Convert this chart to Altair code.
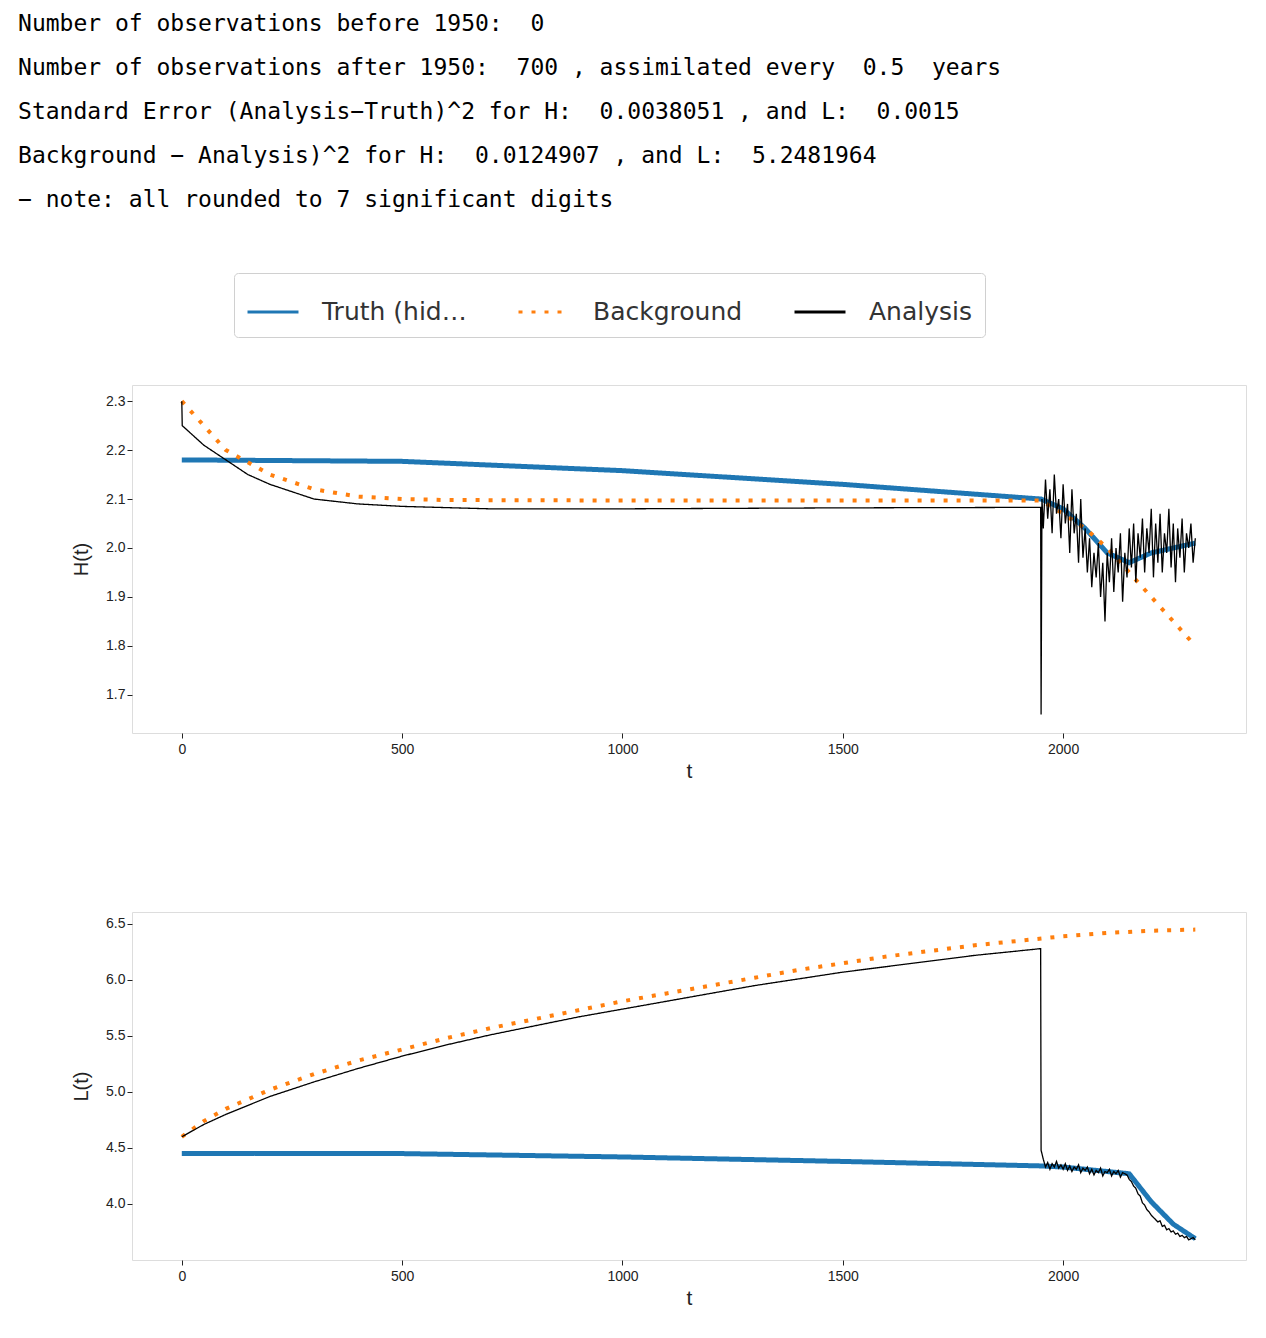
import altair as alt
import pandas as pd

NB = "\u00a0"

# header lines
header = [
    "Number of observations before 1950:  0",
    "Number of observations after 1950:  700 , assimilated every  0.5  years",
    "Standard Error (Analysis\u2212Truth)^2 for H:  0.0038051 , and L:  0.0015",
    "Background \u2212 Analysis)^2 for H:  0.0124907 , and L:  5.2481964",
    " \u2212 note: all rounded to 7 significant digits",
]
header = [s.replace(" ", NB) for s in header]

series = ["Truth (hidden)", "Background", "Analysis"]
widths = [5, 4, 1.3]

# H(t)
h_truth_t = [0, 500, 1000, 1500, 1950, 2000, 2050, 2100, 2150, 2200, 2250, 2300]
h_truth = [2.18, 2.177, 2.158, 2.13, 2.10, 2.08, 2.04, 1.99, 1.97, 1.99, 2.0, 2.01]
h_back_t = [0, 100, 200, 300, 400, 500, 600, 1000, 1500, 1950, 2000, 2050, 2100, 2150, 2200, 2250, 2300]
h_back = [2.30, 2.20, 2.15, 2.12, 2.105, 2.10, 2.098, 2.097, 2.097, 2.097, 2.07, 2.04, 2.00, 1.95, 1.90, 1.85, 1.80]
h_ana_t = [0, 1, 50, 100, 150, 200, 300, 400, 500, 700, 1000, 1500, 1949, 1950, 1952]
h_ana = [2.30, 2.25, 2.21, 2.18, 2.15, 2.13, 2.10, 2.09, 2.085, 2.08, 2.08, 2.082, 2.083, 1.66, 2.10]
h_noise = [
    2.04, 2.14, 2.06, 2.12, 2.03, 2.15, 2.07, 2.10, 2.02, 2.13,
    2.05, 2.09, 1.99, 2.12, 2.03, 2.07, 1.97, 2.10, 1.98, 2.04,
    1.95, 2.02, 1.92, 1.99, 1.94, 2.01, 1.90, 1.97, 1.85, 1.99,
    1.93, 2.02, 1.91, 2.00, 1.95, 2.03, 1.89, 1.99, 1.94, 2.04,
    1.96, 2.05, 1.93, 2.03, 1.98, 2.06, 1.95, 2.04, 1.99, 2.08,
    1.94, 2.05, 1.97, 2.07, 1.95, 2.03, 1.99, 2.08, 1.96, 2.05,
    1.93, 2.04, 1.98, 2.06, 1.95, 2.03, 2.00, 2.05, 1.97, 2.02,
]

# L(t)
l_truth_t = [0, 500, 1000, 1500, 1950, 2000, 2100, 2150, 2200, 2250, 2300]
l_truth = [4.45, 4.45, 4.42, 4.38, 4.34, 4.33, 4.29, 4.27, 4.02, 3.82, 3.69]
l_back_t = [0, 50] + list(range(100, 2301, 100))
l_back = [4.60, 4.74, 4.85, 5.02, 5.16, 5.28, 5.38, 5.48, 5.57, 5.65, 5.73, 5.81, 5.88,
          5.95, 6.02, 6.09, 6.15, 6.21, 6.26, 6.31, 6.35, 6.39, 6.42, 6.44, 6.45]
l_ana_t = [0, 50] + list(range(100, 2000, 100)) + [1949, 1950]
l_ana = [4.60, 4.71, 4.80, 4.96, 5.09, 5.21, 5.32, 5.42, 5.51, 5.59, 5.67, 5.74, 5.81,
         5.88, 5.95, 6.01, 6.07, 6.12, 6.17, 6.22, 6.26, 6.28, 4.48]
l_noise = [
    4.40, 4.33, 4.37, 4.31, 4.36, 4.33, 4.38, 4.32, 4.35, 4.31,
    4.36, 4.30, 4.34, 4.29, 4.33, 4.31, 4.35, 4.28, 4.32, 4.30,
    4.33, 4.27, 4.31, 4.26, 4.30, 4.28, 4.32, 4.25, 4.29, 4.28,
    4.31, 4.25, 4.29, 4.27, 4.30, 4.24, 4.28, 4.27, 4.26, 4.22,
    4.20, 4.16, 4.14, 4.09, 4.07, 4.01, 3.99, 3.95, 3.93, 3.90,
    3.88, 3.86, 3.84, 3.85, 3.80, 3.81, 3.77, 3.78, 3.75, 3.76,
    3.73, 3.74, 3.71, 3.72, 3.70, 3.71, 3.68, 3.69, 3.70, 3.68,
]
noise_t = list(range(1955, 2301, 5))


def frame(ts, vs, name):
    return pd.DataFrame({"t": ts, "v": vs, "series": name, "o": range(len(ts))})


h_frames = [
    frame(h_truth_t, h_truth, series[0]),
    frame(h_back_t, h_back, series[1]),
    frame(h_ana_t + noise_t, h_ana + h_noise, series[2]),
]
l_frames = [
    frame(l_truth_t, l_truth, series[0]),
    frame(l_back_t, l_back, series[1]),
    frame(l_ana_t + noise_t, l_ana + l_noise, series[2]),
]


def panel(frames, y_title, y_domain, y_ticks, legend):
    if legend:
        leg = alt.Legend(
            orient="none", legendX=102, legendY=-112, direction="horizontal",
            title=None, labelFontSize=25, labelFont="DejaVu Sans", labelColor="#333",
            symbolType="stroke", symbolSize=2600, symbolStrokeWidth=3, columnPadding=45,
            labelOffset=22, padding=12, strokeColor="#d0d0d0", cornerRadius=4, fillColor="white",
        )
    else:
        leg = None
    x = alt.X("t:Q", title="t", scale=alt.Scale(domain=[-113, 2415], nice=False, zero=False),
              axis=alt.Axis(values=[0, 500, 1000, 1500, 2000], format="d", grid=False, labelFontSize=14,
                            titleFontSize=21, titleFontWeight="normal", labelColor="#222",
                            titleColor="#222", tickColor="#222", domain=False, labelPadding=4))
    y = alt.Y("v:Q", title=y_title, scale=alt.Scale(domain=y_domain, nice=False, zero=False),
              axis=alt.Axis(values=y_ticks, format=".1f", grid=False, labelFontSize=14,
                            titleFontSize=20, titleFontWeight="normal", labelColor="#222",
                            titleColor="#222", tickColor="#222", domain=False, titlePadding=14))
    color = alt.Color("series:N", scale=alt.Scale(domain=series, range=["#1f77b4", "#ff7f0e", "black"]),
                      sort=series, legend=leg)
    dash = alt.StrokeDash("series:N", scale=alt.Scale(domain=series, range=[[1, 0], [4, 9], [1, 0]]),
                          sort=series, legend=leg)
    layers = []
    for f, w in zip(frames, widths):
        layers.append(
            alt.Chart(f).mark_line(clip=True, strokeCap="butt", strokeWidth=w).encode(
                x=x, y=y, color=color, strokeDash=dash, order="o:Q"
            )
        )
    return alt.layer(*layers).properties(width=1114, height=348)


top = panel(h_frames, "H(t)", [1.622, 2.333], [1.7, 1.8, 1.9, 2.0, 2.1, 2.2, 2.3], True)
bottom = panel(l_frames, "L(t)", [3.5, 6.607], [4.0, 4.5, 5.0, 5.5, 6.0, 6.5], False)

chart = alt.vconcat(top, bottom, spacing=129).resolve_legend(
    color="independent", strokeDash="independent"
).properties(
    padding={"left": 10, "top": 5, "right": 5, "bottom": 5},
    title=alt.TitleParams(text=header, anchor="start", font="DejaVu Sans Mono", fontSize=23,
                          fontWeight="normal", lineHeight=44, offset=60, dx=-53, color="black"),
).configure_view(stroke="#222", strokeWidth=1.2).configure(background="white")

chart.save("out.html", embed_options={"renderer": "svg", "actions": False})
